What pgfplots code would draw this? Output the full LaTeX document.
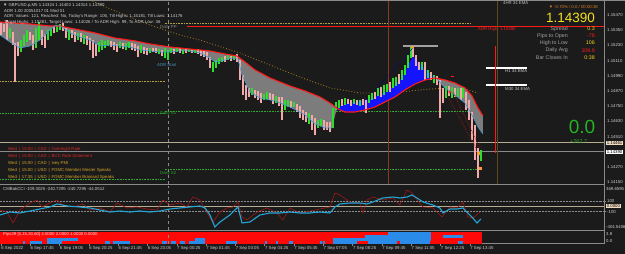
\documentclass[border=0pt]{standalone}
\usepackage{pgfplots}
\pgfplotsset{compat=1.18}
\usepackage{pgfplotstable}
\usepgfplotslibrary{fillbetween}
\usepackage{fontspec}
\setmainfont{Liberation Sans}
\definecolor{bg}{HTML}{1B1B1B}
\definecolor{cdown}{HTML}{F2A9A9}
\definecolor{cup}{HTML}{2BE02B}
\definecolor{ema}{HTML}{FF1A1A}
\definecolor{fast}{HTML}{3A9AD0}
\definecolor{cloudG}{HTML}{7C7C7C}
\definecolor{cloudB}{HTML}{1414FF}
\definecolor{ema4}{HTML}{9A7420}
\definecolor{sep}{HTML}{8A8A8A}
\definecolor{txt}{HTML}{D0D0D0}
\definecolor{pp}{HTML}{B0A040}
\definecolor{sgreen}{HTML}{2EA82E}
\definecolor{cciC}{HTML}{23A6D8}
\definecolor{cciR}{HTML}{A01818}
\definecolor{hmR}{HTML}{FF0808}
\definecolor{hmB}{HTML}{2A8CE8}
\definecolor{gold}{HTML}{D4A52A}
\definecolor{calred}{HTML}{E02828}
\definecolor{bigY}{HTML}{F5E020}
\definecolor{tanb}{HTML}{F0DCC0}
\definecolor{tanline}{HTML}{B8AC90}
\definecolor{brownred}{HTML}{8A3A1E}
\definecolor{oliveb}{HTML}{5E4A1E}
\newcommand\ft{\fontsize{4.3bp}{5.2bp}\selectfont}
\tikzset{fill between/on layer=main}

\pgfplotstableread{
b lo hi
0.0 1.15312 1.15414
1.6 1.15335 1.15399
3.3 1.15272 1.15430
6.6 1.15233 1.15335
7.6 1.14941 1.15249
9.3 1.15146 1.15257
15.8 1.15272 1.15335
17.5 1.15194 1.15312
22.4 1.15233 1.15351
24.0 1.15209 1.15320
28.9 1.15328 1.15383
33.8 1.15343 1.15407
35.5 1.15288 1.15367
38.8 1.15288 1.15351
40.4 1.15257 1.15335
43.7 1.15257 1.15328
46.9 1.15233 1.15304
48.6 1.15194 1.15288
50.2 1.15130 1.15272
51.9 1.15146 1.15241
60.0 1.15217 1.15265
61.7 1.15194 1.15257
63.3 1.15178 1.15241
66.6 1.15201 1.15249
71.5 1.15194 1.15249
73.2 1.15186 1.15241
74.8 1.15138 1.15225
78.1 1.15162 1.15217
79.7 1.15154 1.15209
83.0 1.15178 1.15209
84.6 1.15170 1.15209
87.9 1.15146 1.15194
94.4 1.15162 1.15201
97.7 1.15170 1.15209
101.0 1.15170 1.15201
104.3 1.15170 1.15201
107.5 1.15162 1.15201
109.2 1.15146 1.15194
110.8 1.15138 1.15186
112.5 1.15115 1.15178
114.1 1.15051 1.15138
122.3 1.15099 1.15146
125.6 1.15107 1.15146
128.8 1.15099 1.15162
130.5 1.14957 1.15115
132.1 1.14838 1.14996
133.7 1.14799 1.14917
135.4 1.14823 1.14894
138.7 1.14815 1.14878
140.3 1.14799 1.14870
141.9 1.14775 1.14854
146.8 1.14799 1.14854
148.5 1.14767 1.14846
151.8 1.14752 1.14823
153.4 1.14641 1.14823
158.3 1.14736 1.14791
161.6 1.14704 1.14767
163.2 1.14657 1.14752
164.9 1.14641 1.14720
166.5 1.14625 1.14704
169.8 1.14562 1.14681
171.4 1.14523 1.14657
176.3 1.14562 1.14641
178.0 1.14562 1.14625
179.6 1.14546 1.14625
186.2 1.14752 1.14807
189.4 1.14767 1.14807
191.1 1.14752 1.14799
194.3 1.14760 1.14799
197.6 1.14760 1.14807
199.3 1.14696 1.14799
204.2 1.14807 1.14862
207.4 1.14823 1.14902
212.4 1.14862 1.14941
217.3 1.14925 1.15004
224.9 1.15138 1.15225
226.5 1.15067 1.15154
228.2 1.15036 1.15099
231.5 1.14957 1.15099
234.7 1.14957 1.15020
238.0 1.14917 1.14988
239.6 1.14657 1.14957
241.3 1.14775 1.14894
244.6 1.14831 1.14909
247.8 1.14823 1.14894
251.1 1.14799 1.14894
253.8 1.14720 1.14862
255.5 1.14641 1.14799
257.1 1.14483 1.14704
258.7 1.14326 1.14602
260.4 1.14184 1.14420
}\downC

\pgfplotstableread{
b lo hi
4.9 1.15288 1.15367
10.9 1.15178 1.15272
12.6 1.15225 1.15312
14.2 1.15257 1.15351
19.1 1.15209 1.15367
20.7 1.15272 1.15414
25.7 1.15272 1.15351
27.3 1.15304 1.15367
30.6 1.15335 1.15391
32.2 1.15351 1.15399
37.1 1.15272 1.15351
42.0 1.15272 1.15328
45.3 1.15241 1.15312
53.5 1.15178 1.15257
55.1 1.15194 1.15272
56.8 1.15209 1.15265
58.4 1.15225 1.15272
65.0 1.15209 1.15257
68.2 1.15194 1.15249
69.9 1.15209 1.15257
76.4 1.15170 1.15233
81.3 1.15170 1.15209
86.3 1.15162 1.15201
89.5 1.15130 1.15209
91.2 1.15115 1.15194
92.8 1.15170 1.15209
96.1 1.15178 1.15209
99.4 1.15162 1.15194
102.6 1.15178 1.15201
105.9 1.15170 1.15194
115.7 1.15020 1.15099
117.4 1.15051 1.15115
119.0 1.15083 1.15130
120.6 1.15099 1.15138
123.9 1.15115 1.15154
127.2 1.15115 1.15154
137.0 1.14838 1.14894
143.6 1.14799 1.14846
145.2 1.14807 1.14862
150.1 1.14775 1.14831
155.0 1.14720 1.14799
156.7 1.14744 1.14799
159.9 1.14744 1.14783
168.1 1.14610 1.14696
173.1 1.14578 1.14641
174.7 1.14594 1.14649
181.2 1.14578 1.14736
182.9 1.14720 1.14783
184.5 1.14736 1.14799
187.8 1.14760 1.14815
192.7 1.14767 1.14807
196.0 1.14752 1.14799
200.9 1.14775 1.14838
202.5 1.14799 1.14854
205.8 1.14831 1.14894
209.1 1.14838 1.14917
210.7 1.14862 1.14925
214.0 1.14894 1.14973
215.6 1.14909 1.14980
218.9 1.14957 1.15036
220.5 1.14996 1.15075
222.2 1.15051 1.15154
223.8 1.15130 1.15217
229.8 1.15036 1.15099
233.1 1.14973 1.15036
236.4 1.14933 1.14996
242.9 1.14815 1.14909
246.2 1.14815 1.14902
249.5 1.14823 1.14894
252.2 1.14815 1.14902
262.0 1.14314 1.14403
}\upC

\newcommand\hm[4]{\addplot[fill=hmB,draw=none] coordinates {(#1,#3) (#2,#3) (#2,#4) (#1,#4)} -- cycle;}

\begin{document}
\begin{tikzpicture}
\fill[bg] (0bp,0bp) rectangle (625bp,254bp);

\pgfplotsset{panel/.style={scale only axis, anchor=south west, width=604bp,
  xmin=-0.5, xmax=329.2, axis y line*=right,
  axis line style={sep,line width=0.8bp}, tick style={sep,line width=0.5bp},
  major tick length=2bp, tick align=outside,
  yticklabel style={font=\ft, text=txt, inner sep=1bp}, scaled y ticks=false}}

% ================= MAIN PRICE PANEL =================
\begin{axis}[panel, axis x line=none, at={(0bp,70bp)}, height=184bp,
  ymin=1.14136, ymax=1.15588,
  ytick={1.14150,1.14270,1.14510,1.14630,1.14750,1.14870,1.14990,1.15110,1.15230,1.15350,1.15470},
  yticklabels={1.14150,1.14270,1.14510,1.14630,1.14750,1.14870,1.14990,1.15110,1.15230,1.15350,1.15470}]
\addplot[pp, densely dotted, line width=0.6bp] coordinates {(89.5,1.15407) (256,1.15407)};
\addplot[pp, densely dotted, line width=0.6bp] coordinates {(-0.5,1.14949) (89.5,1.14949)};
\addplot[sgreen, densely dotted, line width=0.6bp] coordinates {(-0.5,1.14696) (89.5,1.14696)};
\addplot[sgreen, densely dotted, line width=0.6bp] coordinates {(89.5,1.14712) (256,1.14712)};
\addplot[sgreen, densely dotted, line width=0.6bp] coordinates {(-0.5,1.14176) (89.5,1.14176)};
\addplot[sgreen, densely dotted, line width=0.6bp] coordinates {(89.5,1.14255) (260.4,1.14255)};
\addplot[ema, line width=1bp] coordinates {(101.5,1.15380) (329.2,1.15380)};
\addplot[tanline, line width=0.9bp] coordinates {(-0.5,1.14461) (329.2,1.14461)};
\addplot[sep, line width=0.9bp] coordinates {(-0.5,1.14390) (329.2,1.14390)};
\addplot[sep, dashed, line width=0.5bp] coordinates {(91.2,1.14136) (91.2,1.15588)};
\addplot[brownred, line width=0.9bp] coordinates {(211.8,1.14136) (211.8,1.15588)};
\addplot[oliveb, line width=1bp] coordinates {(271.3,1.14136) (271.3,1.15588)};
\addplot[ema4, dotted, line width=0.9bp] coordinates {(48.6,1.15588) (65.0,1.15485) (81.3,1.15391) (97.7,1.15312) (108.6,1.15272) (130.5,1.15170) (146.8,1.15075) (163.2,1.14980) (179.6,1.14894) (196.0,1.14854) (212.4,1.14854) (228.7,1.14878) (242.4,1.14894) (253.3,1.14886) (260.4,1.14854)};
\addplot[draw=none, name path=slow] coordinates {(-0.5,1.15414) (15.8,1.15399) (26.7,1.15383) (32.2,1.15383) (40.4,1.15359) (51.3,1.15328) (62.2,1.15288) (73.2,1.15265) (81.3,1.15241) (92.3,1.15217) (103.2,1.15201) (114.1,1.15186) (122.3,1.15162) (128.8,1.15146) (133.2,1.15099) (138.7,1.15036) (146.8,1.14973) (157.8,1.14909) (166.0,1.14870) (174.1,1.14823) (179.6,1.14775) (184.0,1.14728) (187.8,1.14704) (193.2,1.14704) (198.7,1.14720) (204.2,1.14744) (209.6,1.14783) (215.1,1.14823) (220.5,1.14878) (226.0,1.14925) (231.5,1.14957) (236.9,1.14973) (242.4,1.14957) (247.8,1.14933) (253.3,1.14894) (257.1,1.14831) (260.4,1.14736) (263.1,1.14673)};
\addplot[draw=none, name path=fastp] coordinates {(-0.5,1.15312) (4.9,1.15257) (10.4,1.15209) (15.8,1.15225) (21.3,1.15272) (26.7,1.15351) (30.0,1.15391) (33.3,1.15375) (37.7,1.15328) (43.1,1.15296) (48.6,1.15272) (54.0,1.15225) (59.5,1.15233) (65.0,1.15225) (70.4,1.15217) (75.9,1.15194) (81.3,1.15186) (86.8,1.15178) (92.3,1.15178) (97.7,1.15186) (103.2,1.15186) (108.6,1.15170) (114.1,1.15130) (116.8,1.15099) (120.6,1.15107) (126.1,1.15130) (129.4,1.15123) (131.6,1.14996) (136.0,1.14862) (141.4,1.14815) (149.6,1.14791) (157.8,1.14744) (166.0,1.14681) (171.4,1.14610) (176.9,1.14578) (180.7,1.14578) (182.9,1.14704) (185.1,1.14752) (190.5,1.14775) (196.0,1.14791) (201.4,1.14807) (206.9,1.14838) (212.4,1.14886) (217.8,1.14957) (220.5,1.15020) (223.3,1.15099) (224.9,1.15146) (227.6,1.15099) (231.5,1.15044) (235.3,1.14996) (238.0,1.14965) (242.4,1.14894) (247.8,1.14838) (253.3,1.14775) (257.1,1.14681) (260.4,1.14586) (263.1,1.14531)};
\addplot[fill=cloudG, draw=none] fill between[of=slow and fastp, soft clip={domain=-0.5:28.5}];
\addplot[fill=cloudB, draw=none] fill between[of=slow and fastp, soft clip={domain=28.5:32.5}];
\addplot[fill=cloudG, draw=none] fill between[of=slow and fastp, soft clip={domain=32.5:183.3}];
\addplot[fill=cloudB, draw=none] fill between[of=slow and fastp, soft clip={domain=183.3:237.5}];
\addplot[fill=cloudG, draw=none] fill between[of=slow and fastp, soft clip={domain=237.5:263.1}];
\addplot[draw=none, mark=none, error bars/.cd, y dir=plus, y explicit, error mark=none,
  error bar style={draw=cdown, line width=1.4bp}]
  table[x=b, y=lo, y error expr=\thisrow{hi}-\thisrow{lo}] {\downC};
\addplot[draw=none, mark=none, error bars/.cd, y dir=plus, y explicit, error mark=none,
  error bar style={draw=cup, line width=1.4bp}]
  table[x=b, y=lo, y error expr=\thisrow{hi}-\thisrow{lo}] {\upC};
\addplot[ema, line width=1.1bp] coordinates {(-0.5,1.15414) (15.8,1.15399) (26.7,1.15383) (32.2,1.15383) (40.4,1.15359) (51.3,1.15328) (62.2,1.15288) (73.2,1.15265) (81.3,1.15241) (92.3,1.15217) (103.2,1.15201) (114.1,1.15186) (122.3,1.15162) (128.8,1.15146) (133.2,1.15099) (138.7,1.15036) (146.8,1.14973) (157.8,1.14909) (166.0,1.14870) (174.1,1.14823) (179.6,1.14775) (184.0,1.14728) (187.8,1.14704) (193.2,1.14704) (198.7,1.14720) (204.2,1.14744) (209.6,1.14783) (215.1,1.14823) (220.5,1.14878) (226.0,1.14925) (231.5,1.14957) (236.9,1.14973) (242.4,1.14957) (247.8,1.14933) (253.3,1.14894) (257.1,1.14831) (260.4,1.14736) (263.1,1.14673)};
\addplot[fast, line width=0.6bp] coordinates {(-0.5,1.15312) (4.9,1.15257) (10.4,1.15209) (15.8,1.15225) (21.3,1.15272) (26.7,1.15351) (30.0,1.15391) (33.3,1.15375) (37.7,1.15328) (43.1,1.15296) (48.6,1.15272) (54.0,1.15225) (59.5,1.15233) (65.0,1.15225) (70.4,1.15217) (75.9,1.15194) (81.3,1.15186) (86.8,1.15178) (92.3,1.15178) (97.7,1.15186) (103.2,1.15186) (108.6,1.15170) (114.1,1.15130) (116.8,1.15099) (120.6,1.15107) (126.1,1.15130) (129.4,1.15123) (131.6,1.14996) (136.0,1.14862) (141.4,1.14815) (149.6,1.14791) (157.8,1.14744) (166.0,1.14681) (171.4,1.14610) (176.9,1.14578) (180.7,1.14578)};
\addplot[fast, line width=0.6bp] coordinates {(238.0,1.14965) (242.4,1.14894) (247.8,1.14838) (253.3,1.14775) (257.1,1.14681) (260.4,1.14586) (263.1,1.14531)};
\addplot[sep!80!white, line width=1.2bp] coordinates {(219.5,1.15225) (238.6,1.15225)};
\addplot[white, line width=1.2bp] coordinates {(264.8,1.15051) (287.1,1.15051)};
\addplot[white, line width=1.2bp] coordinates {(264.8,1.14917) (287.1,1.14917)};
\addplot[cciR, densely dotted, line width=0.7bp] coordinates {(243.5,1.14838) (259.9,1.14405)};
\addplot[cciR, densely dotted, line width=0.7bp] coordinates {(246.8,1.14862) (261.5,1.14420)};
\addplot[blue!70!black, densely dotted, line width=0.6bp] coordinates {(204.2,1.14878) (224.9,1.15209)};
\addplot[ema, line width=1.15bp] coordinates {(270.0,1.15225) (270.0,1.14381)};
\addplot[ema, line width=0.8bp] coordinates {(245.5,1.14988) (247.5,1.14988)};
\addplot[only marks, mark=square*, mark size=0.9bp, color=orange!80!white] coordinates {(260.4,1.14381) (261.5,1.14262) (224.4,1.15220)};
\addplot[only marks, mark=*, mark size=1.2bp, color=ema] coordinates {(245.1,1.14862)};
\end{axis}

% ================= CCI PANEL =================
\begin{axis}[panel, axis x line=none, at={(0bp,24.5bp)}, height=43.5bp, ymin=-430, ymax=376,
  ytick={100,-100}, yticklabels={100,-100}]
\addplot[sep, densely dotted, line width=0.5bp] coordinates {(-0.5,100) (329.2,100)};
\addplot[sep, densely dotted, line width=0.5bp] coordinates {(-0.5,-100) (329.2,-100)};
\addplot[tanline, line width=0.8bp] coordinates {(-0.5,0) (329.2,0)};
\addplot[sep, dashed, line width=0.5bp] coordinates {(91.2,-430) (91.2,376)};
\addplot[cciR, line width=0.6bp] coordinates {(-0.5,-69) (3.3,-106) (6.6,-309) (10.4,-69) (15.8,61) (19.7,117) (22.4,-13) (26.7,61) (30.6,117) (33.8,24) (39.3,-13) (44.8,43) (48.6,-69) (54.0,-31) (59.5,-106) (63.3,61) (68.8,-31) (74.2,-13) (79.7,-50) (85.2,-69) (88.4,117) (92.3,24) (97.7,61) (101.5,-13) (104.8,172) (108.6,117) (112.5,-124) (115.7,-291) (119.6,-106) (123.4,-31) (126.7,-13) (129.4,80) (131.6,-198) (134.3,-254) (139.8,-106) (145.2,-31) (150.7,-124) (153.9,-254) (157.8,-31) (163.2,-124) (168.7,-87) (174.1,-50) (179.6,-13) (182.3,246) (185.1,209) (190.5,80) (196.0,61) (197.6,-124) (199.8,117) (203.1,172) (208.5,117) (214.0,154) (217.8,24) (221.6,302) (224.4,246) (227.1,117) (230.4,-13) (235.8,-31) (240.8,-198) (245.1,-13) (249.0,-31) (252.2,80) (254.9,-198) (257.7,-217) (261.5,-106)};
\addplot[cciC, line width=1.1bp] coordinates {(-0.5,-161) (4.9,-106) (10.4,-124) (15.8,-87) (21.3,-50) (26.7,-13) (30.6,43) (36.0,6) (43.1,-13) (48.6,-31) (54.0,-69) (59.5,-106) (65.0,-87) (70.4,-106) (75.9,-87) (81.3,-106) (86.8,-87) (92.3,-50) (97.7,-31) (103.2,-13) (108.6,6) (111.4,-31) (114.1,-161) (116.8,-383) (119.6,-291) (125.0,-161) (127.7,-69) (129.4,-13) (131.6,-309) (135.9,-291) (141.4,-161) (146.8,-124) (152.3,-124) (157.8,-106) (163.2,-124) (168.7,-124) (174.1,-106) (179.6,-124) (182.3,-13) (185.1,43) (190.5,61) (196.0,61) (199.8,43) (203.1,80) (208.5,154) (214.0,172) (217.8,154) (221.6,172) (224.4,209) (227.1,154) (230.4,80) (235.8,24) (239.6,-31) (241.3,-124) (245.1,-50) (249.0,-50) (252.2,-31) (254.4,-106) (257.1,-198) (259.9,-309) (262.0,-235)};
\end{axis}

% ================= HEATMAP PANEL =================
\begin{axis}[panel, at={(0bp,10.5bp)}, height=11.5bp, ymin=0, ymax=4,
  axis x line*=bottom, ytick=\empty,
  xtick={0,16,...,256},
  xticklabels={6 Sep 2022,6 Sep 17:45,6 Sep 19:05,6 Sep 20:25,6 Sep 21:45,6 Sep 23:05,7 Sep 00:25,7 Sep 01:45,7 Sep 03:05,7 Sep 04:25,7 Sep 05:45,7 Sep 07:05,7 Sep 08:25,7 Sep 09:45,7 Sep 11:05,7 Sep 12:25,7 Sep 13:45},
  xticklabel style={font=\ft, text=txt, anchor=north west, xshift=-0.8bp, inner sep=1bp}]
\addplot[fill=hmR, draw=none] coordinates {(-0.5,0) (262.6,0) (262.6,4) (-0.5,4)} -- cycle;
\hm{12.0}{13.1}{0}{1}
\hm{15.8}{22.4}{0}{1}
\hm{25.1}{33.3}{0}{1}
\hm{56.8}{59.5}{0}{1}
\hm{61.1}{70.4}{0}{1}
\hm{87.9}{90.6}{0}{1}
\hm{92.8}{95.5}{0}{1}
\hm{97.7}{100.4}{0}{1}
\hm{102.6}{111.4}{0}{1}
\hm{122.8}{128.8}{0}{1}
\hm{144.1}{145.2}{0}{1}
\hm{150.1}{151.2}{0}{1}
\hm{157.2}{159.4}{0}{1}
\hm{174.1}{175.2}{0}{1}
\hm{175.8}{176.9}{0}{1}
\hm{181.2}{194.3}{0}{1}
\hm{200.3}{216.2}{0}{1}
\hm{217.8}{234.2}{0}{1}
\hm{249.5}{252.2}{0}{1}
\hm{25.1}{42.0}{1}{2}
\hm{105.9}{111.4}{1}{2}
\hm{181.2}{234.7}{1}{2}
\hm{198.7}{234.7}{2}{3}
\hm{241.3}{252.2}{2}{3}
\hm{211.3}{234.7}{3}{4}
\addplot[sep, dashed, line width=0.5bp] coordinates {(91.2,0) (91.2,4)};
\end{axis}

\begin{scope}[x=1bp,y=1bp]
\draw[sep, line width=1.2bp] (0,253.2) -- (625,253.2);
\draw[sep, line width=1.4bp] (0,69.3) -- (604,69.3);
\draw[sep, line width=1.4bp] (0,23.5) -- (604,23.5);
\draw[sep, line width=0.8bp] (604,10.5) -- (604,254);
\begin{scope}[every node/.style={font=\ft, inner sep=0pt}]
\node[anchor=west, text=txt] at (3,249) {▼ GBPUSD.p,M5  1.14324 1.14403 1.14314 1.14390};
\node[anchor=west, text=txt] at (4,243) {ADR 1.00 20051017 01 Mod 01};
\node[anchor=west, text=txt] at (4,237.5) {ADR: Values: 121, Reached: No, Today's Range: 106, Till Highs: 1.15181, Till Lows: 1.14176};
\node[anchor=west, text=txt] at (4,232) {Target Highs: 1.15381, Target Lows: 1.14026 / To ADR High: 99, To ADR Low: 36};
\node[anchor=west, text=sep] at (160,227) {Daily PP};
\node[anchor=west, text=fast!80!gray] at (157,189) {ADR Start};
\node[anchor=west, text=sgreen] at (160,141) {Daily S1};
\node[anchor=west, text=sgreen] at (160,81) {Daily S2};
\node[anchor=west, text=calred] at (8,105) {Wed \,|\, 15:00 \,|\, CAD \,|\, Overnight Rate};
\node[anchor=west, text=calred] at (8,98) {Wed \,|\, 15:00 \,|\, CAD \,|\, BOC Rate Statement};
\node[anchor=west, text=gold] at (8,91) {Wed \,|\, 15:00 \,|\, CAD \,|\, Ivey PMI};
\node[anchor=west, text=gold] at (8,84) {Wed \,|\, 15:00 \,|\, USD \,|\, FOMC Member Mester Speaks};
\node[anchor=west, text=gold] at (8,77) {Wed \,|\, 17:35 \,|\, USD \,|\, FOMC Member Brainard Speaks};
\node[anchor=west, text=txt!80!gray] at (503,250.5) {4HR 34 EMA};
\node[anchor=west, text=txt] at (505,183) {H1 34 EMA};
\node[anchor=west, text=txt] at (505,165) {M30 34 EMA};
\node[anchor=west, text=ema] at (478,225) {ADR High: 1.15380};
\node[anchor=east, text=orange!70!gray] at (598,247) {▼ -0.70\% / 0.0 / 00:00:38};
\node[anchor=east, text=bigY, font=\fontsize{13.5bp}{14bp}\selectfont] at (595,236) {1.14390};
\node[anchor=east, text=sep!80!white, font=\fontsize{5.3bp}{6bp}\selectfont] at (568,225) {Spread};
\node[anchor=east, text=sep!80!white, font=\fontsize{5.3bp}{6bp}\selectfont] at (568,218) {Pips to Open};
\node[anchor=east, text=sep!80!white, font=\fontsize{5.3bp}{6bp}\selectfont] at (568,211) {High to Low};
\node[anchor=east, text=sep!80!white, font=\fontsize{5.3bp}{6bp}\selectfont] at (568,203.5) {Daily Avg};
\node[anchor=east, text=sep!80!white, font=\fontsize{5.3bp}{6bp}\selectfont] at (568,196) {Bar Closes In};
\node[anchor=east, text=bigY!85!orange, font=\fontsize{5.3bp}{6bp}\selectfont] at (595,225) {0.3};
\node[anchor=east, text=ema, font=\fontsize{5.3bp}{6bp}\selectfont] at (595,218) {-78};
\node[anchor=east, text=bigY!85!orange, font=\fontsize{5.3bp}{6bp}\selectfont] at (595,211) {106};
\node[anchor=east, text=ema, font=\fontsize{5.3bp}{6bp}\selectfont] at (595,203.5) {109.9};
\node[anchor=east, text=bigY!85!orange, font=\fontsize{5.3bp}{6bp}\selectfont] at (595,196) {0:38};
\node[text=cup!80!black, font=\fontsize{19bp}{20bp}\selectfont] at (582,127) {0.0};
\node[anchor=west, text=sgreen, font=\fontsize{5.5bp}{6bp}\selectfont] at (570,112) {+262.7};
\node[anchor=west, fill=tanb, text=black, inner sep=0.6bp] at (606,111) {1.14461};
\node[anchor=west, fill=white, text=black, inner sep=0.6bp] at (606,102) {1.14390};
\node[anchor=west, text=txt] at (606,65) {369.6595};
\node[anchor=west, fill=tanb, text=black, inner sep=0.6bp] at (606,48) {0.0000};
\node[anchor=west, text=txt] at (606,27) {-404.5406};
\node[anchor=west, text=txt] at (606,20) {3.8};
\node[anchor=west, text=txt] at (606,12.5) {0.0};
\node[anchor=west, text=txt] at (3,65) {CMBakCCI -109.3025 -240.7295 -240.7295 -44.0512};
\node[anchor=west, text=pink!60!white] at (3,20) {Pips29 [5,15,30,60] 3.0000 2.0000 1.0000 0.0000};
\end{scope}
\end{scope}
\pgfresetboundingbox
\path[use as bounding box] (0bp,0bp) rectangle (625bp,254bp);
\end{tikzpicture}
\end{document}
